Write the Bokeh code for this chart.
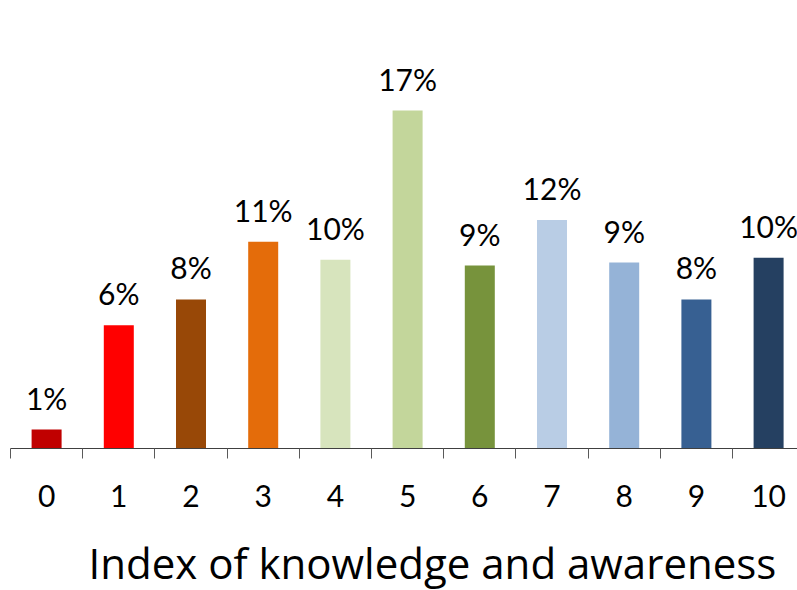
from bokeh.plotting import figure
from bokeh.models import Range1d, FixedTicker, Title, LinearAxis, ColumnDataSource
from bokeh.core.properties import value
from bokeh.embed import file_html
from bokeh.resources import INLINE

categories = ["0", "1", "2", "3", "4", "5", "6", "7", "8", "9", "10"]
percentages = [0.95, 6.2, 7.5, 10.4, 9.5, 17.0, 9.2, 11.5, 9.35, 7.5, 9.6]
bar_labels = ["1%", "6%", "8%", "11%", "10%", "17%", "9%", "12%", "9%", "8%", "10%"]
bar_colors = ["#C00000", "#FF0000", "#984807", "#E46C0A", "#D7E4BD", "#C3D69B",
              "#77933C", "#B9CDE5", "#95B3D7", "#376092", "#254061"]
x_title = "Index of knowledge and awareness"

FONT = "Lato"
xs = list(range(len(categories)))
src = ColumnDataSource(dict(x=xs, top=percentages, label=bar_labels, color=bar_colors))

step = 72.2
frame_w = 787
frame_h = 448
p = figure(width=797, height=590, output_backend="svg", toolbar_location=None,
           x_range=Range1d(-0.5, -0.5 + frame_w / step), y_range=Range1d(0, frame_h / 19.88),
           min_border_left=10, min_border_right=0, min_border_top=0, min_border_bottom=0)
p.outline_line_color = None
p.grid.visible = False
p.yaxis.visible = False

p.vbar(x="x", top="top", width=30 / step, bottom=0, color="color", line_color=None, source=src)
p.text(x="x", y="top", text="label", source=src, text_align="center",
       text_baseline="alphabetic", y_offset=-32, text_font=value(FONT),
       text_font_size="30px", text_color="#000000")

ax = p.xaxis[0]
ax.ticker = FixedTicker(ticks=xs, minor_ticks=[i - 0.5 for i in range(len(categories) + 1)])
ax.major_label_overrides = {i: c for i, c in enumerate(categories)}
ax.major_tick_out = 0
ax.major_tick_in = 0
ax.minor_tick_out = 10
ax.minor_tick_in = 0
ax.minor_tick_line_color = "#595959"
ax.axis_line_color = "#404040"
ax.major_label_text_font = FONT
ax.major_label_text_font_size = "30px"
ax.major_label_text_color = "#000000"
ax.major_label_standoff = 26

# blank spacer between tick labels and the axis title
spacer = LinearAxis(ticker=FixedTicker(ticks=xs), major_tick_out=22, major_tick_in=0,
                    major_tick_line_color="#ffffff", minor_tick_line_color=None,
                    axis_line_color=None, major_label_standoff=0,
                    major_label_text_color=None)
p.add_layout(spacer, "below")

t = Title(text=x_title, align="left", offset=78, text_font="Open Sans", text_font_size="42px",
          text_font_style="normal", text_color="#000000", standoff=0)
p.add_layout(t, "below")

open("out.html", "w").write(file_html(p, INLINE))
